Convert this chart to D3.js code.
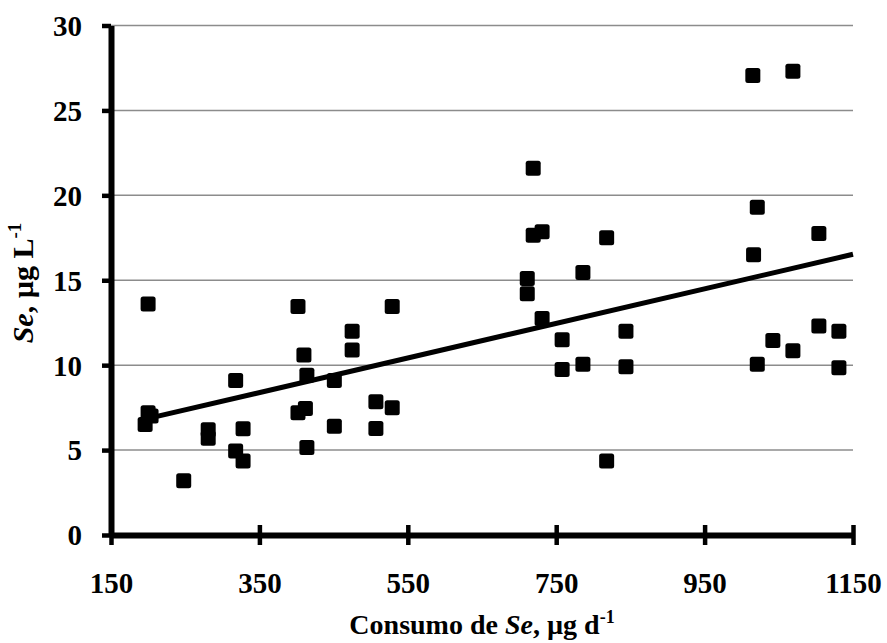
<!DOCTYPE html>
<html>
<head>
<meta charset="utf-8">
<script src="https://cdn.jsdelivr.net/npm/d3@7"></script>
<style>
  html, body { margin: 0; padding: 0; background: #fff; }
  svg text { font-family: "Liberation Serif", "Times New Roman", serif; font-weight: bold; fill: #000; }
</style>
</head>
<body>
<div id="chart"></div>
<script>
// Se intake (x) vs. serum Se (y)
var intake = [196, 200, 204, 200, 248, 281, 281, 318, 318, 328, 328,
  402, 402, 410, 412, 414, 414, 451, 451, 475, 475, 507, 507, 529, 529,
  711, 711, 719, 719, 731, 731, 758, 758, 786, 786, 818, 818, 844, 844,
  1015, 1016, 1021, 1021, 1042, 1069, 1069, 1104, 1104, 1131, 1131];
var serum = [6.5, 7.2, 7.0, 13.6, 3.2, 6.2, 5.7, 9.1, 4.95, 6.25, 4.35,
  13.45, 7.2, 10.6, 7.45, 9.4, 5.15, 9.1, 6.4, 12.0, 10.9, 7.85, 6.27, 13.45, 7.5,
  15.1, 14.2, 21.6, 17.65, 17.85, 12.75, 11.5, 9.75, 15.45, 10.05, 17.5, 4.35, 12.0, 9.9,
  27.05, 16.5, 19.3, 10.05, 11.45, 27.3, 10.85, 17.75, 12.3, 12.0, 9.85];

var xTicks = [150, 350, 550, 750, 950, 1150];
var yTicks = [0, 5, 10, 15, 20, 25, 30];

// linear trend (from the figure)
var trendSlope = 0.010179,
    trendIntercept = 4.824;

var width = 887, height = 643;
var margin = {left: 111, right: 34, top: 25.5, bottom: 108};

var svg = d3.select('#chart')
  .append('svg')
  .attr('width', width)
  .attr('height', height);

var x = d3.scaleLinear().domain([150, 1150]).range([margin.left, width - margin.right]);
var y = d3.scaleLinear().domain([0, 30]).range([height - margin.bottom, margin.top]);

// gridlines
svg.append('g')
  .selectAll('line')
  .data(yTicks.filter(function (d) { return d > 0; }))
  .enter()
  .append('line')
  .attr('x1', x(150))
  .attr('x2', x(1150))
  .attr('y1', function (d) { return y(d); })
  .attr('y2', function (d) { return y(d); })
  .attr('stroke', '#8c8c8c')
  .attr('stroke-width', 1.5);

// y axis
var yAxis = svg.append('g')
  .attr('transform', 'translate(' + x(150) + ',0)')
  .call(d3.axisLeft(y).tickValues(yTicks).tickSize(9).tickSizeOuter(0).tickPadding(20));
yAxis.select('.domain').attr('stroke', '#000').attr('stroke-width', 6);
yAxis.selectAll('.tick line').attr('stroke', '#000').attr('stroke-width', 4.5);
yAxis.selectAll('.tick text')
  .style('font-size', '29px')
  .attr('dy', '0.34em');

// x axis
var xAxis = svg.append('g')
  .attr('transform', 'translate(0,' + y(0) + ')')
  .call(d3.axisBottom(x).tickValues(xTicks).tickFormat(d3.format('d'))
    .tickSize(10).tickSizeOuter(0).tickPadding(27));
xAxis.select('.domain').attr('stroke', '#000').attr('stroke-width', 6);
xAxis.selectAll('.tick line')
  .attr('y1', -10)
  .attr('y2', 10)
  .attr('stroke', '#000')
  .attr('stroke-width', 4.5);
xAxis.selectAll('.tick text')
  .style('font-size', '29px')
  .attr('dy', '0.71em');

// trend line
var x0 = d3.min(intake), x1 = 1150;
svg.append('line')
  .attr('x1', x(x0))
  .attr('y1', y(trendIntercept + trendSlope * x0))
  .attr('x2', x(x1))
  .attr('y2', y(trendIntercept + trendSlope * x1))
  .attr('stroke', '#000')
  .attr('stroke-width', 5);

// points
var sz = 15;
svg.append('g')
  .selectAll('rect')
  .data(d3.range(intake.length))
  .enter()
  .append('rect')
  .attr('x', function (i) { return x(intake[i]) - sz / 2; })
  .attr('y', function (i) { return y(serum[i]) - sz / 2; })
  .attr('width', sz)
  .attr('height', sz)
  .attr('rx', 2.5)
  .attr('fill', '#000');

// axis titles
var xt = svg.append('text')
  .attr('x', 482)
  .attr('y', 634)
  .attr('text-anchor', 'middle')
  .style('font-size', '28px');
xt.append('tspan').text('Consumo de ');
xt.append('tspan').style('font-style', 'italic').text('Se');
xt.append('tspan').text(', µg d');
xt.append('tspan').attr('dy', -11).style('font-size', '18px').text('-1');

var yt = svg.append('text')
  .attr('transform', 'translate(33,283) rotate(-90)')
  .attr('text-anchor', 'middle')
  .style('font-size', '30px');
yt.append('tspan').style('font-style', 'italic').text('Se');
yt.append('tspan').text(', µg L');
yt.append('tspan').attr('dy', -12).style('font-size', '19px').text('-1');
</script>
</body>
</html>
